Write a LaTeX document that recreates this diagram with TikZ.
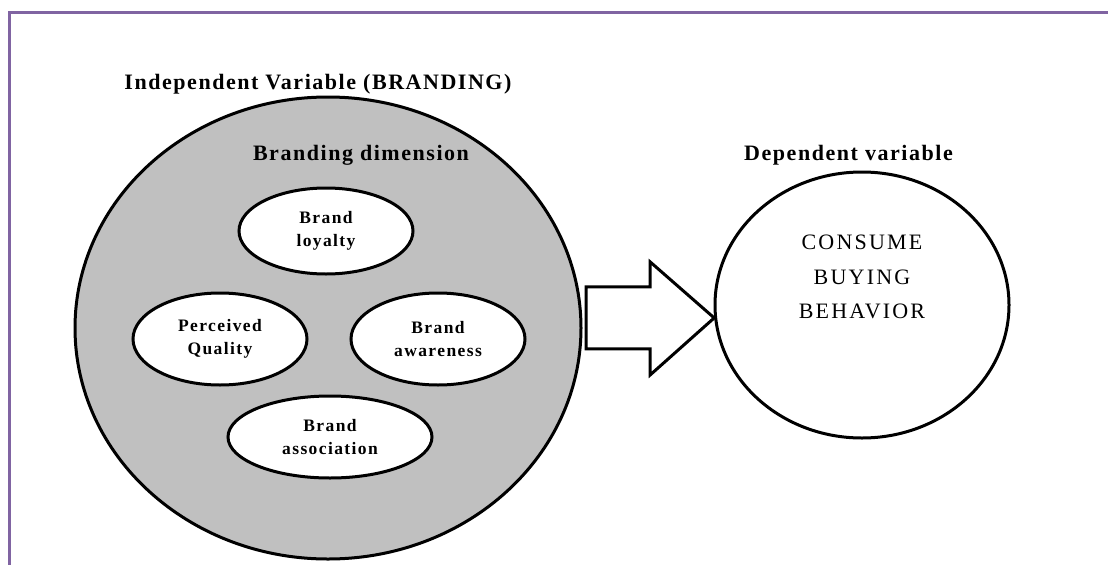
\documentclass[tikz,border=0pt]{standalone}
\usepackage{fontspec}
\setmainfont{Liberation Serif}
\newfontfamily\tracked[LetterSpace=7]{Liberation Serif}
\newfontfamily\trackedsmall[LetterSpace=8]{Liberation Serif}
\newfontfamily\trackedwide[LetterSpace=10]{Liberation Serif}
\usetikzlibrary{shapes.geometric,calc}
\definecolor{framepurple}{HTML}{8064A2}
\definecolor{dimgray}{RGB}{192,192,192}
\begin{document}
\begin{tikzpicture}[x=1pt,y=-1pt,
  outline/.style={draw=black, line width=3pt},
  dimbox/.style={ellipse, outline, fill=white, inner sep=0pt, align=center,
    font=\trackedsmall\bfseries\fontsize{17.5}{23}\selectfont},
  toplabel/.style={anchor=base, inner sep=0pt,
    font=\tracked\bfseries\fontsize{22}{26}\selectfont}]
\useasboundingbox[fill=white] (0,0) rectangle (1108,565);
% frame
\draw[framepurple, line width=2.6pt] (1108,12.5) -- (9.5,12.5) -- (9.5,565);
% independent variable
\node[ellipse, outline, fill=dimgray, minimum width=506pt, minimum height=462pt, inner sep=0pt] (indep) at (328,328) {};
\node[toplabel] (indeptitle) at (318,89) {Independent Variable (BRANDING)};
\node[toplabel] (dimtitle) at (361,160) {Branding dimension};
\node[dimbox, minimum width=174pt, minimum height=86pt] (loyalty) at (326,231) {Brand\\loyalty};
\node[dimbox, minimum width=174pt, minimum height=92pt] (quality) at (220,339) {Perceived\\Quality};
\node[dimbox, minimum width=174pt, minimum height=92pt] (awareness) at (438,339) {Brand\\awareness};
\node[dimbox, minimum width=204pt, minimum height=82pt] (association) at (330,437) {Brand\\association};
% dependent variable
\node[ellipse, outline, fill=white, minimum width=294pt, minimum height=266pt, inner sep=0pt] (dep) at (862,305) {};
\node[toplabel] (deptitle) at (848.5,160) {Dependent variable};
\node[inner sep=0pt, align=center, font=\trackedwide\fontsize{22}{34.5}\selectfont] (deptext) at ($(dep.center)+(0,-28)$) {CONSUME\\BUYING\\BEHAVIOR};
% block arrow from independent to dependent
\draw[outline, fill=white, line join=miter] (dep.185) -- ++(-64,57) -- ++(0,-26) -- ++(-64,0) -- ++(0,-62) -- ++(64,0) -- ++(0,-25) -- cycle;
\end{tikzpicture}
\end{document}
